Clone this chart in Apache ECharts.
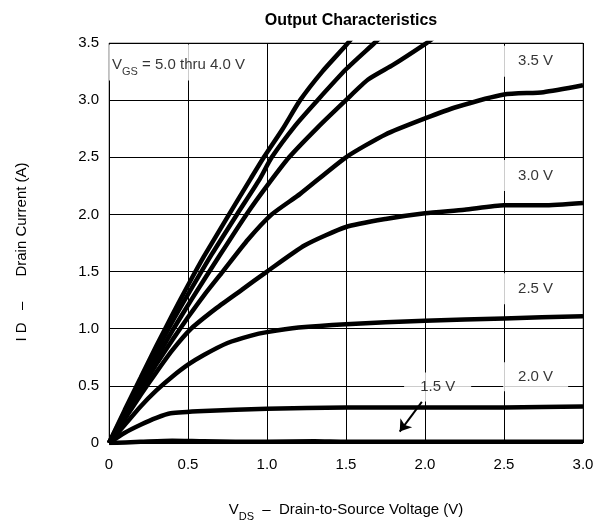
<!DOCTYPE html>
<html>
<head>
<meta charset="utf-8">
<script src="https://cdn.jsdelivr.net/npm/echarts@6/dist/echarts.min.js"></script>
<style>
  html, body { margin: 0; padding: 0; background: #fff; }
  #chart { width: 597px; height: 525px; }
</style>
</head>
<body>
<div id="chart"></div>
<script>
// Tick values for both axes
const vdsTicks = [0, 0.5, 1.0, 1.5, 2.0, 2.5, 3.0];
const idTicks = [0, 0.5, 1.0, 1.5, 2.0, 2.5, 3.0, 3.5];

// Drain current curves, [VDS (V), ID (A)] per gate voltage
const vgs50 = [[0,0],[0.1,0.29],[0.2,0.57],[0.3,0.85],[0.4,1.12],[0.5,1.38],[0.6,1.63],[0.76,2.0],[0.9,2.32],[0.98,2.5],[1.1,2.75],[1.21,3.0],[1.35,3.25],[1.5,3.48],[1.56,3.58]];
const vgs45 = [[0,0],[0.1,0.27],[0.2,0.54],[0.3,0.8],[0.4,1.06],[0.5,1.3],[0.65,1.65],[0.81,2.0],[0.95,2.3],[1.03,2.5],[1.18,2.78],[1.32,3.0],[1.5,3.27],[1.68,3.5],[1.74,3.58]];
const vgs40 = [[0,0],[0.1,0.25],[0.2,0.5],[0.3,0.74],[0.4,0.98],[0.52,1.25],[0.7,1.64],[0.87,2.0],[1.0,2.25],[1.14,2.5],[1.32,2.76],[1.5,3.0],[1.64,3.18],[1.8,3.31],[2.0,3.49],[2.05,3.54]];
const vgs35 = [[0,0],[0.1,0.23],[0.2,0.46],[0.3,0.69],[0.4,0.9],[0.5,1.1],[0.6,1.29],[0.72,1.5],[0.88,1.78],[1.03,2.0],[1.21,2.18],[1.5,2.5],[1.75,2.7],[2.0,2.84],[2.2,2.94],[2.5,3.05],[2.75,3.07],[3.0,3.13]];
const vgs30 = [[0,0],[0.1,0.21],[0.2,0.42],[0.3,0.62],[0.4,0.81],[0.52,1.0],[0.68,1.18],[0.84,1.34],[1.0,1.5],[1.24,1.73],[1.5,1.89],[1.75,1.96],[2.0,2.01],[2.25,2.04],[2.5,2.08],[2.75,2.08],[3.0,2.1]];
const vgs25 = [[0,0],[0.1,0.16],[0.2,0.32],[0.3,0.46],[0.4,0.58],[0.5,0.685],[0.6,0.77],[0.75,0.875],[0.9,0.94],[1.0,0.97],[1.2,1.01],[1.5,1.04],[2.0,1.07],[2.5,1.09],[3.0,1.11]];
const vgs20 = [[0,0],[0.1,0.09],[0.2,0.16],[0.3,0.22],[0.39,0.26],[0.6,0.28],[1.0,0.3],[1.5,0.31],[2.0,0.31],[2.5,0.31],[3.0,0.32]];
const vgs15 = [[0,0],[0.2,0.01],[0.4,0.02],[0.6,0.015],[1.0,0.01],[1.3,0.015],[1.5,0.01],[2.0,0.01],[2.5,0.01],[3.0,0.01]];

const curves = [vgs50, vgs45, vgs40, vgs35, vgs30, vgs25, vgs20, vgs15];

const FONT = 'Arial, "Liberation Sans", Helvetica, sans-serif';
const fmt = v => (v === 0 ? '0' : v.toFixed(1));

const curveSeries = curves.map(data => ({
  type: 'line',
  data: data,
  smooth: 0.2,
  showSymbol: false,
  clip: true,
  lineStyle: { color: '#000', width: 4.5 },
  z: 3,
  silent: true
}));

// Boxed voltage labels, placed in data coordinates
const boxLabel = (text, padding) => ({
  show: true,
  position: 'inside',
  formatter: text,
  color: '#000',
  fontFamily: FONT,
  fontSize: 15,
  backgroundColor: '#fff',
  padding: padding
});

const subRich = {
  v: { fontFamily: FONT, fontSize: 15, color: '#000', verticalAlign: 'bottom', lineHeight: 18 },
  s: { fontFamily: FONT, fontSize: 11, color: '#000', verticalAlign: 'bottom', lineHeight: 12, padding: [0, 0, -5, 0] }
};

const labelSeries = {
  type: 'scatter',
  symbolSize: 0,
  silent: true,
  z: 4,
  data: [
    { value: [2.70, 3.34], label: boxLabel('3.5 V', [8, 15]) },
    { value: [2.70, 2.34], label: boxLabel('3.0 V', [8, 15]) },
    { value: [2.70, 1.35], label: boxLabel('2.5 V', [8, 15]) },
    { value: [2.70, 0.58], label: boxLabel('2.0 V', [7, 15]) },
    { value: [2.08, 0.49], label: boxLabel('1.5 V', [7, 16]) },
    {
      value: [0, 3.33],
      label: {
        show: true,
        position: 'right',
        distance: 0,
        formatter: '{v|V}{s|GS}{v| = 5.0 thru 4.0 V}',
        backgroundColor: '#fff',
        padding: [10, 10, 8, 3],
        rich: subRich
      }
    }
  ],
  // Pointer from the 1.5 V label down to its curve
  markLine: {
    silent: true,
    animation: false,
    label: { show: false },
    lineStyle: { color: '#000', width: 2, type: 'solid' },
    symbolSize: 11,
    data: [[
      { coord: [1.98, 0.36], symbol: 'none' },
      { coord: [1.84, 0.10], symbol: 'arrow' }
    ]]
  }
};

const chart = echarts.init(document.getElementById('chart'), null, { renderer: 'canvas' });
chart.setOption({
  animation: false,
  backgroundColor: '#fff',
  title: {
    text: 'Output Characteristics',
    left: 346,
    textAlign: 'center',
    top: 8,
    textStyle: { fontFamily: FONT, fontSize: 16, fontWeight: 'bold', color: '#000' }
  },
  grid: {
    left: 109, right: 14, top: 43, bottom: 82,
    outerBoundsMode: 'none',
    containLabel: false,
    show: true, borderColor: '#808080', borderWidth: 1, backgroundColor: 'transparent'
  },
  xAxis: {
    type: 'value',
    min: vdsTicks[0], max: vdsTicks[vdsTicks.length - 1], interval: 0.5,
    axisLine: { show: false },
    axisTick: { show: false },
    splitLine: { show: true, lineStyle: { color: '#000', width: 1 } },
    axisLabel: { formatter: fmt, margin: 14, color: '#000', fontFamily: FONT, fontSize: 15 },
    name: '{v|V}{s|DS}{v|  –  Drain-to-Source Voltage (V)}',
    nameLocation: 'middle',
    nameGap: 56,
    nameTextStyle: { rich: subRich }
  },
  yAxis: {
    type: 'value',
    min: idTicks[0], max: idTicks[idTicks.length - 1], interval: 0.5,
    axisLine: { show: false },
    axisTick: { show: false },
    splitLine: { show: true, lineStyle: { color: '#000', width: 1 } },
    axisLabel: { formatter: fmt, margin: 10, color: '#000', fontFamily: FONT, fontSize: 15 },
    name: 'I D   –      Drain Current (A)',
    nameLocation: 'middle',
    nameGap: 80,
    nameTextStyle: { fontFamily: FONT, fontSize: 15, color: '#000', padding: [0, 0, 0, -18] }
  },
  series: [...curveSeries, labelSeries]
});
</script>
</body>
</html>
